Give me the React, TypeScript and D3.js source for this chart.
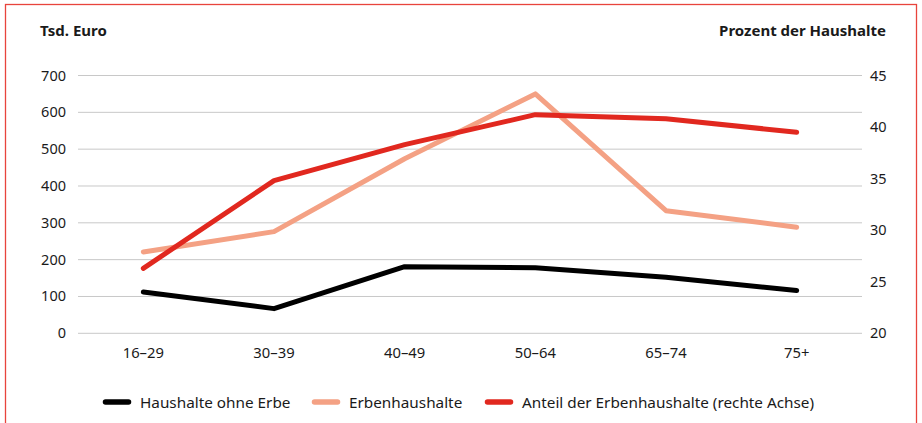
import React from "react";
import * as d3 from "d3";

const categories = ["16–29", "30–39", "40–49", "50–64", "65–74", "75+"];
const ohneErbe = [112, 67, 181, 178, 152, 116];
const erben = [221, 276, 474, 650, 333, 288];
const anteil = [26.3, 34.8, 38.3, 41.2, 40.8, 39.5];
const leftTicks = [0, 100, 200, 300, 400, 500, 600, 700];
const rightTicks = [20, 25, 30, 35, 40, 45];
const legendItems = [
  { label: "Haushalte ohne Erbe", color: "#000000" },
  { label: "Erbenhaushalte", color: "#f4a184" },
  { label: "Anteil der Erbenhaushalte (rechte Achse)", color: "#e1281f" },
];

const FONT = "'Source Sans Pro', 'Noto Sans', sans-serif";

export default function App() {
  const W = 922, H = 423;
  const x = d3.scaleBand<string>().domain(categories).range([78, 862]);
  const yL = d3.scaleLinear().domain([0, 700]).range([333.3, 75.5]);
  const yR = d3.scaleLinear().domain([20, 45]).range([333.3, 75.5]);
  const cx = (c: string) => (x(c) as number) + x.bandwidth() / 2;
  const lineL = d3.line<number>().x((_, i) => cx(categories[i])).y((d) => yL(d));
  const lineR = d3.line<number>().x((_, i) => cx(categories[i])).y((d) => yR(d));
  const legendX = [103, 312, 485];
  return (
    <svg width={W} height={H} style={{ position: "absolute", left: 0, top: 0, background: "#fff" }} fontFamily={FONT}>
      <rect x={5.5} y={4.5} width={911} height={430} fill="none" stroke="#e8443c" strokeWidth={1.3} />
      <text x={40} y={36} fontSize={15} fontWeight="bold" fill="#1a1a1a">Tsd. Euro</text>
      <text x={886} y={36} fontSize={15} fontWeight="bold" fill="#1a1a1a" textAnchor="end">Prozent der Haushalte</text>
      {leftTicks.map((t) => (
        <g key={"l" + t}>
          <line x1={78} x2={862} y1={yL(t)} y2={yL(t)} stroke="#c8c8c8" strokeWidth={1} />
          <text x={66} y={yL(t) + 5} fontSize={14.5} textAnchor="end" fill="#1a1a1a">{t}</text>
        </g>
      ))}
      {rightTicks.map((t) => (
        <text key={"r" + t} x={870} y={yR(t) + 5} fontSize={14.5} fill="#1a1a1a">{t}</text>
      ))}
      {categories.map((c) => (
        <text key={c} x={cx(c)} y={358} fontSize={14.8} textAnchor="middle" fill="#1a1a1a">{c}</text>
      ))}
      <path d={lineL(ohneErbe) || ""} fill="none" stroke="#000" strokeWidth={5} strokeLinecap="round" strokeLinejoin="round" />
      <path d={lineL(erben) || ""} fill="none" stroke="#f4a184" strokeWidth={5} strokeLinecap="round" strokeLinejoin="round" />
      <path d={lineR(anteil) || ""} fill="none" stroke="#e1281f" strokeWidth={5} strokeLinecap="round" strokeLinejoin="round" />
      {legendItems.map((it, i) => (
        <g key={it.label}>
          <line x1={legendX[i] + 2.5} x2={legendX[i] + 25.5} y1={402} y2={402} stroke={it.color} strokeWidth={5.5} strokeLinecap="round" />
          <text x={legendX[i] + 37} y={407.5} fontSize={15.3} fill="#1a1a1a">{it.label}</text>
        </g>
      ))}
    </svg>
  );
}
